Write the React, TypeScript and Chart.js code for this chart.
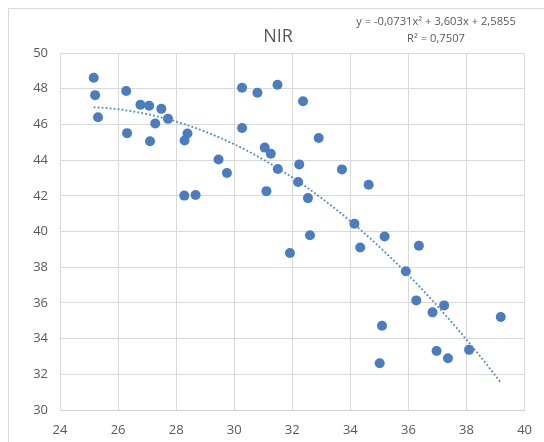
import React, { useEffect, useRef } from "react";
import { Chart, registerables } from "chart.js";

Chart.register(...registerables);

const TITLE = "NIR";
const EQUATION = "y = -0,0731x² + 3,603x + 2,5855";
const R_SQUARED = "R² = 0,7507";

const X_VALUES = [
  25.16, 25.21, 25.31, 26.28, 26.31, 26.77, 27.07, 27.1, 27.49, 27.28,
  27.72, 28.39, 28.29, 28.28, 28.67, 29.46, 29.75, 30.27, 30.8, 31.49,
  30.27, 31.05, 31.26, 31.5, 31.11, 32.37, 32.91, 32.24, 33.71, 32.2,
  34.63, 32.54, 34.14, 32.61, 31.92, 35.18, 34.34, 36.36, 35.91, 36.27,
  37.23, 36.83, 39.18, 35.09, 36.97, 37.36, 38.09, 35.01,
];
const Y_VALUES = [
  48.61, 47.64, 46.4, 47.87, 45.51, 47.1, 47.04, 45.06, 46.87, 46.05,
  46.31, 45.49, 45.1, 42.01, 42.04, 44.03, 43.28, 48.05, 47.77, 48.22,
  45.8, 44.7, 44.36, 43.5, 42.26, 47.3, 45.24, 43.76, 43.48, 42.77,
  42.62, 41.87, 40.43, 39.79, 38.8, 39.72, 39.1, 39.2, 37.77, 36.14,
  35.86, 35.47, 35.21, 34.72, 33.31, 32.9, 33.37, 32.62,
];
// polynomial trendline coefficients shown on the chart: a*x^2 + b*x + c
const TREND_COEFFS = [-0.0731, 3.603, 2.5855];

const X_RANGE = [24, 40];
const Y_RANGE = [30, 50];
const TICK_STEP = 2;

const FONT = "'Open Sans', 'Liberation Sans', sans-serif";
const TEXT_COLOR = "#595959";
const GRID_COLOR = "#d9d9d9";
const POINT_COLOR = "#4a7cc0";

export default function App() {
  const canvasRef = useRef<HTMLCanvasElement | null>(null);

  useEffect(() => {
    const canvas = canvasRef.current;
    if (!canvas) return;

    const points = X_VALUES.map((x, i) => ({ x, y: Y_VALUES[i] }));
    const xMin = Math.min(...X_VALUES);
    const xMax = Math.max(...X_VALUES);
    const steps = 80;
    const trend: { x: number; y: number }[] = [];
    for (let i = 0; i <= steps; i++) {
      const x = xMin + ((xMax - xMin) * i) / steps;
      const [a, b, c] = TREND_COEFFS;
      trend.push({ x, y: a * x * x + b * x + c });
    }

    const decor = {
      id: "decor",
      beforeDraw(chart: any) {
        const ctx = chart.ctx as CanvasRenderingContext2D;
        ctx.save();
        ctx.fillStyle = "#ffffff";
        ctx.fillRect(0, 0, chart.width, chart.height);
        ctx.strokeStyle = GRID_COLOR;
        ctx.lineWidth = 1;
        ctx.beginPath();
        ctx.moveTo(8.5, chart.height);
        ctx.lineTo(8.5, 8.5);
        ctx.lineTo(chart.width, 8.5);
        ctx.stroke();
        ctx.restore();
      },
      afterDraw(chart: any) {
        const ctx = chart.ctx as CanvasRenderingContext2D;
        ctx.save();
        ctx.fillStyle = TEXT_COLOR;
        ctx.textAlign = "center";
        ctx.textBaseline = "middle";
        ctx.font = `18px ${FONT}`;
        ctx.fillText(TITLE, 278, 37);
        ctx.font = `11.2px ${FONT}`;
        ctx.fillText(EQUATION, 436, 22);
        ctx.fillText(R_SQUARED, 436, 39);
        ctx.restore();
      },
    };

    const chart = new Chart(canvas, {
      type: "scatter",
      data: {
        datasets: [
          {
            label: "Trend",
            data: trend,
            showLine: true,
            borderColor: "#5585c6",
            borderWidth: 1.8,
            borderDash: [1.8, 2.2],
            pointRadius: 0,
            fill: false,
            tension: 0,
          },
          {
            label: "NIR",
            data: points,
            backgroundColor: POINT_COLOR,
            borderColor: POINT_COLOR,
            borderWidth: 0,
            pointRadius: 5,
          },
        ],
      },
      options: {
        animation: false,
        responsive: false,
        layout: { padding: { top: 53, right: 10, left: 0, bottom: 0 } },
        plugins: {
          legend: { display: false },
          tooltip: { enabled: false },
          title: { display: false },
        },
        scales: {
          x: {
            type: "linear",
            min: X_RANGE[0],
            max: X_RANGE[1],
            afterFit(scale: any) {
              scale.height = 32;
            },
            ticks: {
              stepSize: TICK_STEP,
              color: TEXT_COLOR,
              font: { family: FONT, size: 13 },
              padding: 12,
              maxRotation: 0,
            },
            grid: { color: GRID_COLOR, drawTicks: false },
            border: { color: "#cfcfcf" },
          },
          y: {
            type: "linear",
            min: Y_RANGE[0],
            max: Y_RANGE[1],
            afterFit(scale: any) {
              scale.width = 60;
            },
            ticks: {
              stepSize: TICK_STEP,
              color: TEXT_COLOR,
              font: { family: FONT, size: 13 },
              padding: 12,
            },
            grid: { color: GRID_COLOR, drawTicks: false },
            border: { color: GRID_COLOR },
          },
        },
      },
      plugins: [decor],
    });

    return () => chart.destroy();
  }, []);

  return (
    <div style={{ position: "fixed", left: 0, top: 0, width: 544, height: 442, background: "#fff" }}>
      <canvas ref={canvasRef} width={544} height={442} style={{ display: "block" }} />
    </div>
  );
}
